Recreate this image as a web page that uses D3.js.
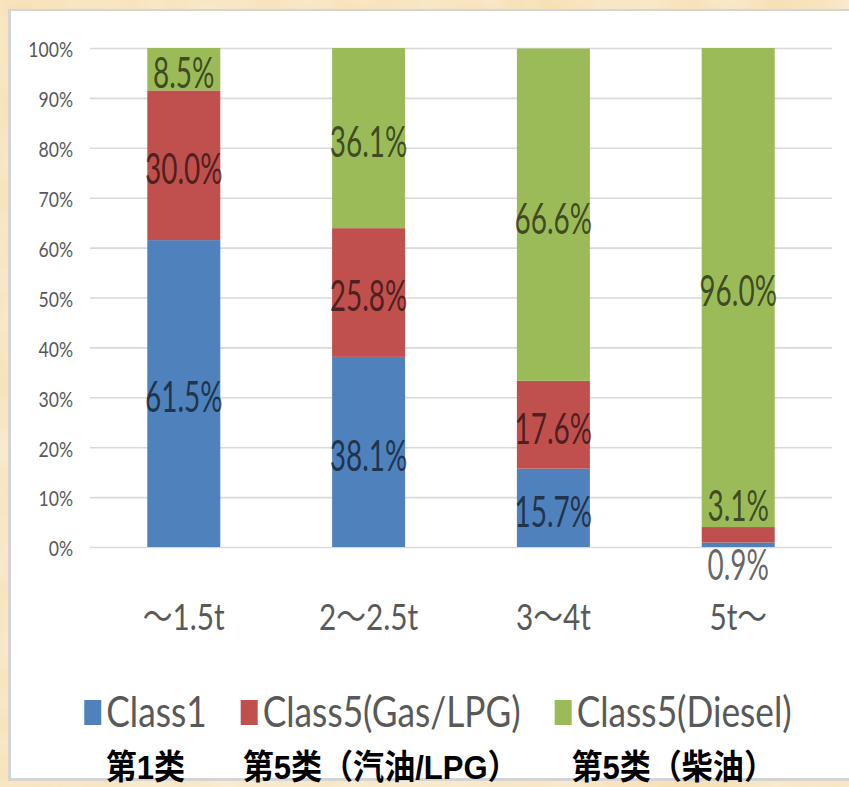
<!DOCTYPE html>
<html>
<head>
<meta charset="utf-8">
<script src="https://cdn.jsdelivr.net/npm/d3@7"></script>
<style>
  html, body { margin: 0; padding: 0; background: #f7e4bf; }
  svg { display: block; }
</style>
</head>
<body>
<svg id="chart" width="849" height="787"></svg>
<script>
// ---- data ----
const categories = ["～1.5t", "2～2.5t", "3～4t", "5t～"];
const seriesNames = ["Class1", "Class5(Gas/LPG)", "Class5(Diesel)"];
const seriesCaptions = ["第1类", "第5类（汽油/LPG）", "第5类（柴油）"];
const class1 = [61.5, 38.1, 15.7, 0.9];
const class5Gas = [30.0, 25.8, 17.6, 3.1];
const class5Diesel = [8.5, 36.1, 66.6, 96.0];
const yTicks = [0, 10, 20, 30, 40, 50, 60, 70, 80, 90, 100];
const colors = ["#4f81bd", "#c0504d", "#9bbb59"];

const seriesValues = [class1, class5Gas, class5Diesel];
const table = categories.map((c, i) => {
  const row = { cat: c };
  seriesNames.forEach((s, j) => row[s] = seriesValues[j][i]);
  return row;
});

const svg = d3.select("#chart");
const W = 849, H = 787;

// ---- background & panel ----
const defs = svg.append("defs");
const f = defs.append("filter").attr("id", "paper").attr("x", 0).attr("y", 0).attr("width", "100%").attr("height", "100%");
f.append("feTurbulence").attr("type", "fractalNoise").attr("baseFrequency", 0.012).attr("numOctaves", 3).attr("seed", 4).attr("result", "n");
f.append("feColorMatrix").attr("in", "n").attr("type", "matrix")
  .attr("values", "0 0 0 0 1  0 0 0 0 1  0 0 0 0 1  0 0 0 0.9 -0.2").attr("result", "m");
f.append("feComposite").attr("in", "m").attr("in2", "SourceGraphic").attr("operator", "in");

svg.append("rect").attr("width", W).attr("height", H).attr("fill", "#f6dfb3");
svg.append("rect").attr("width", W).attr("height", H).attr("fill", "#fbefd6").attr("filter", "url(#paper)").attr("opacity", 0.8);

svg.append("rect").attr("x", 8).attr("y", 9).attr("width", W).attr("height", 772).attr("fill", "#d4d4d4");
svg.append("rect").attr("x", 11).attr("y", 11).attr("width", W).attr("height", 767).attr("fill", "#ffffff");

// ---- scales ----
const plot = { left: 90, right: 832, top: 48, bottom: 547 };
const x = d3.scaleBand().domain(categories).range([plot.left, plot.right]).paddingInner(0.605).paddingOuter(0.31);
const y = d3.scaleLinear().domain([0, 100]).range([plot.bottom, plot.top]);

const font = "Lato, 'Noto Sans', 'Noto Sans CJK SC', sans-serif";

// gridlines
const yAxis = d3.axisLeft(y).tickValues(yTicks).tickSize(-(plot.right - plot.left)).tickFormat(d => d + "%").tickPadding(17);
const gy = svg.append("g").attr("transform", `translate(${plot.left},0)`).call(yAxis);
gy.select(".domain").remove();
gy.selectAll(".tick line").attr("stroke", "#d9d9d9").attr("stroke-width", 1.6);
gy.selectAll(".tick text")
  .attr("font-family", font).attr("font-size", 22).attr("fill", "#595959")
  .attr("x", null).attr("dy", null)
  .attr("dominant-baseline", "central")
  .attr("transform", "translate(-17,0) scale(0.8,1)");

// ---- stacked bars ----
const stack = d3.stack().keys(seriesNames);
const stacked = stack(table);

const layers = svg.append("g").selectAll("g").data(stacked).join("g")
  .attr("fill", (d, i) => colors[i]);
layers.selectAll("rect").data(d => d).join("rect")
  .attr("x", d => x(d.data.cat))
  .attr("width", x.bandwidth())
  .attr("y", d => y(d[1]))
  .attr("height", d => y(d[0]) - y(d[1]));

// ---- data labels ----
const labels = [];
stacked.forEach((layer, si) => {
  layer.forEach(d => {
    const v = d[1] - d[0];
    const cx = x(d.data.cat) + x.bandwidth() / 2;
    const segH = y(d[0]) - y(d[1]);
    let cy;
    if (segH >= 30) cy = (y(d[0]) + y(d[1])) / 2 + 3;
    else if (si === 0) cy = y(d[0]) + 17;      // tiny bottom segment: below base
    else cy = y(d[1]) - 22;                     // tiny segment: above its top
    labels.push({ v, cx, cy });
  });
});
svg.append("g").selectAll("text").data(labels).join("text")
  .attr("transform", d => `translate(${d.cx},${d.cy}) scale(0.7,1.05)`)
  .attr("text-anchor", "middle").attr("dominant-baseline", "central")
  .attr("font-family", font).attr("font-size", 40)
  .attr("fill", "#000").attr("fill-opacity", 0.62)
  .text(d => d.v.toFixed(1) + "%");

// ---- x axis labels ----
svg.append("g").selectAll("text").data(categories).join("text")
  .attr("transform", d => `translate(${x(d) + x.bandwidth() / 2},630) scale(0.85,1.05)`)
  .attr("text-anchor", "middle")
  .attr("font-family", font).attr("font-size", 35).attr("fill", "#595959")
  .text(d => d);

// ---- legend ----
const LSX = 0.84;
const lg = svg.append("g");
const items = lg.selectAll("g").data(seriesNames).join("g");
items.append("rect").attr("x", 0).attr("y", 700).attr("width", 17).attr("height", 25)
  .attr("fill", (d, i) => colors[i]);
items.append("text")
  .attr("transform", `translate(22,727) scale(${LSX},1.02)`)
  .attr("font-family", font).attr("font-size", 42).attr("fill", "#595959")
  .text(d => d);
let cursor = 0;
const itemInfo = [];
items.each(function () {
  const tw = d3.select(this).select("text").node().getComputedTextLength() * LSX;
  const w = 22 + tw;
  itemInfo.push({ start: cursor, w });
  cursor += w + 34;
});
const totalW = cursor - 34;
const legendCenter = 438;
const off = legendCenter - totalW / 2;
items.attr("transform", (d, i) => `translate(${off + itemInfo[i].start},0)`);

// ---- captions (centered under legend items) ----
svg.append("g").selectAll("text").data(seriesCaptions).join("text")
  .attr("transform", (d, i) => `translate(${off + itemInfo[i].start + itemInfo[i].w / 2},779) scale(0.97,1.06)`)
  .attr("text-anchor", "middle")
  .attr("font-family", "'Liberation Sans', Arial, 'Noto Sans CJK SC', sans-serif")
  .attr("font-weight", "bold").attr("font-size", 32).attr("fill", "#000")
  .text(d => d);
</script>
</body>
</html>
